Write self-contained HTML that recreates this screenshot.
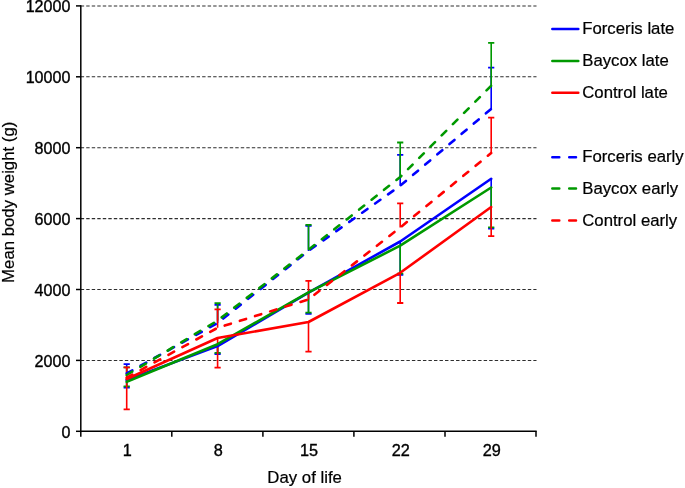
<!DOCTYPE html>
<html><head><meta charset="utf-8"><title>Mean body weight</title>
<style>
html,body{margin:0;padding:0;background:#fff;}
svg{display:block;}
text{font-family:"Liberation Sans",sans-serif;font-size:15.6px;fill:#000;stroke:#000;stroke-width:0.2px;}
text.d{font-size:15.8px;stroke-width:0.35px;}
</style></head><body>
<svg width="685" height="488" viewBox="0 0 685 488">
<rect width="685" height="488" fill="#fff"/>

<line x1="80.7" x2="536.5" y1="360.40" y2="360.40" stroke="#2e2e2e" stroke-width="1.05" stroke-dasharray="3.42 2.1"/>
<line x1="80.7" x2="536.5" y1="289.50" y2="289.50" stroke="#2e2e2e" stroke-width="1.05" stroke-dasharray="3.42 2.1"/>
<line x1="80.7" x2="536.5" y1="218.60" y2="218.60" stroke="#2e2e2e" stroke-width="1.05" stroke-dasharray="3.42 2.1"/>
<line x1="80.7" x2="536.5" y1="147.70" y2="147.70" stroke="#2e2e2e" stroke-width="1.05" stroke-dasharray="3.42 2.1"/>
<line x1="80.7" x2="536.5" y1="76.80" y2="76.80" stroke="#2e2e2e" stroke-width="1.05" stroke-dasharray="3.42 2.1"/>
<line x1="80.7" x2="536.5" y1="5.90" y2="5.90" stroke="#2e2e2e" stroke-width="1.05" stroke-dasharray="3.42 2.1"/>
<path d="M126.7 380.0V387.5M217.6 346.1V354.0M308.5 292.6V313.9M400.2 241.5V274.8M491.2 178.8V228.5" stroke="#0000ff" stroke-width="1.6" fill="none"/>
<path d="M123.6 387.5h6.2M214.5 354.0h6.2M305.4 313.9h6.2M397.1 274.8h6.2M488.1 228.5h6.2" stroke="#0000ff" stroke-width="1.8" fill="none"/>
<path d="M126.7 381.8V386.3M217.6 344.2V352.8M308.5 292.4V312.6M400.2 245.7V273.6M491.2 187.5V227.3" stroke="#009900" stroke-width="1.6" fill="none"/>
<path d="M123.6 386.3h6.2M214.5 352.8h6.2M305.4 312.6h6.2M397.1 273.6h6.2M488.1 227.3h6.2" stroke="#009900" stroke-width="1.8" fill="none"/>
<path d="M126.7 379.0V409.3M217.6 338.0V367.6M308.5 322.0V351.7M400.2 272.8V303.0M491.2 207.0V236.2" stroke="#ff0000" stroke-width="1.6" fill="none"/>
<path d="M123.6 409.3h6.2M214.5 367.6h6.2M305.4 351.7h6.2M397.1 303.0h6.2M488.1 236.2h6.2" stroke="#ff0000" stroke-width="1.8" fill="none"/>
<path d="M126.7 373.4V364.2M217.6 323.0V304.8M308.5 250.9V225.8M400.2 185.7V154.9M491.2 108.9V67.7" stroke="#0000ff" stroke-width="1.6" fill="none"/>
<path d="M123.6 364.2h6.2M214.5 304.8h6.2M305.4 225.8h6.2M397.1 154.9h6.2M488.1 67.7h6.2" stroke="#0000ff" stroke-width="1.8" fill="none"/>
<path d="M126.7 375.0V367.3M217.6 320.6V303.2M308.5 249.8V224.9M400.2 177.0V142.5M491.2 85.7V42.9" stroke="#009900" stroke-width="1.6" fill="none"/>
<path d="M123.6 367.3h6.2M214.5 303.2h6.2M305.4 224.9h6.2M397.1 142.5h6.2M488.1 42.9h6.2" stroke="#009900" stroke-width="1.8" fill="none"/>
<path d="M126.7 377.7V367.3M217.6 327.8V309.4M308.5 299.4V280.8M400.2 227.5V203.3M491.2 153.0V117.7" stroke="#ff0000" stroke-width="1.6" fill="none"/>
<path d="M123.6 367.3h6.2M214.5 309.4h6.2M305.4 280.8h6.2M397.1 203.3h6.2M488.1 117.7h6.2" stroke="#ff0000" stroke-width="1.8" fill="none"/>
<polyline points="126.7,380.0 217.6,346.1 308.5,292.6 400.2,241.5 491.2,178.8" stroke="#0000ff" stroke-width="2.6" fill="none" stroke-linejoin="round" stroke-linecap="round"/>
<polyline points="126.7,381.8 217.6,344.2 308.5,292.4 400.2,245.7 491.2,187.5" stroke="#009900" stroke-width="2.6" fill="none" stroke-linejoin="round" stroke-linecap="round"/>
<polyline points="126.7,379.0 217.6,338.0 308.5,322.0 400.2,272.8 491.2,207.0" stroke="#ff0000" stroke-width="2.6" fill="none" stroke-linejoin="round" stroke-linecap="round"/>
<polyline points="126.7,373.4 217.6,323.0 308.5,250.9 400.2,185.7 491.2,108.9" stroke="#0000ff" stroke-width="2.6" fill="none" stroke-linejoin="round" stroke-linecap="round" stroke-dasharray="6.45 9.43"/>
<polyline points="126.7,375.0 217.6,320.6 308.5,249.8 400.2,177.0 491.2,85.7" stroke="#009900" stroke-width="2.6" fill="none" stroke-linejoin="round" stroke-linecap="round" stroke-dasharray="6.45 9.43"/>
<polyline points="126.7,377.7 217.6,327.8 308.5,299.4 400.2,227.5 491.2,153.0" stroke="#ff0000" stroke-width="2.6" fill="none" stroke-linejoin="round" stroke-linecap="round" stroke-dasharray="6.45 9.43"/>
<path d="M80.8 5.2V432.05" stroke="#000" stroke-width="1.5" fill="none"/>
<path d="M80 431.3H536.7" stroke="#000" stroke-width="1.5" fill="none"/>
<line x1="76" x2="81" y1="431.30" y2="431.30" stroke="#000" stroke-width="1.5"/>
<text class="d" transform="translate(70.4 437.8) scale(1.02 1)" text-anchor="end">0</text>
<line x1="76" x2="81" y1="360.40" y2="360.40" stroke="#000" stroke-width="1.5"/>
<text class="d" transform="translate(70.4 366.9) scale(1.02 1)" text-anchor="end">2000</text>
<line x1="76" x2="81" y1="289.50" y2="289.50" stroke="#000" stroke-width="1.5"/>
<text class="d" transform="translate(70.4 296.0) scale(1.02 1)" text-anchor="end">4000</text>
<line x1="76" x2="81" y1="218.60" y2="218.60" stroke="#000" stroke-width="1.5"/>
<text class="d" transform="translate(70.4 225.1) scale(1.02 1)" text-anchor="end">6000</text>
<line x1="76" x2="81" y1="147.70" y2="147.70" stroke="#000" stroke-width="1.5"/>
<text class="d" transform="translate(70.4 154.2) scale(1.02 1)" text-anchor="end">8000</text>
<line x1="76" x2="81" y1="76.80" y2="76.80" stroke="#000" stroke-width="1.5"/>
<text class="d" transform="translate(70.4 83.3) scale(1.02 1)" text-anchor="end">10000</text>
<line x1="76" x2="81" y1="5.90" y2="5.90" stroke="#000" stroke-width="1.5"/>
<text class="d" transform="translate(70.4 12.4) scale(1.02 1)" text-anchor="end">12000</text>
<line x1="80.8" x2="80.8" y1="431.3" y2="436.7" stroke="#000" stroke-width="1.5"/>
<line x1="171.8" x2="171.8" y1="431.3" y2="436.7" stroke="#000" stroke-width="1.5"/>
<line x1="262.9" x2="262.9" y1="431.3" y2="436.7" stroke="#000" stroke-width="1.5"/>
<line x1="353.9" x2="353.9" y1="431.3" y2="436.7" stroke="#000" stroke-width="1.5"/>
<line x1="445.0" x2="445.0" y1="431.3" y2="436.7" stroke="#000" stroke-width="1.5"/>
<line x1="536.0" x2="536.0" y1="431.3" y2="436.7" stroke="#000" stroke-width="1.5"/>
<text class="d" transform="translate(127.3 456) scale(1.03 1)" text-anchor="middle">1</text>
<text class="d" transform="translate(218.2 456) scale(1.03 1)" text-anchor="middle">8</text>
<text class="d" transform="translate(309.1 456) scale(1.03 1)" text-anchor="middle">15</text>
<text class="d" transform="translate(400.8 456) scale(1.03 1)" text-anchor="middle">22</text>
<text class="d" transform="translate(491.8 456) scale(1.03 1)" text-anchor="middle">29</text>
<text transform="translate(304.6 483) scale(1.075 1)" text-anchor="middle">Day of life</text>
<text transform="translate(13.6 202.3) rotate(-90) scale(1.075 1)" text-anchor="middle">Mean body weight (g)</text>
<path d="M552.3 28.9h26" stroke="#0000ff" stroke-width="2.5" stroke-linecap="round" fill="none"/>
<text transform="translate(582.2 33.6) scale(1.075 1)">Forceris late</text>
<path d="M552.3 61h26" stroke="#009900" stroke-width="2.5" stroke-linecap="round" fill="none"/>
<text transform="translate(582.2 65.7) scale(1.075 1)">Baycox late</text>
<path d="M552.3 92.8h26" stroke="#ff0000" stroke-width="2.5" stroke-linecap="round" fill="none"/>
<text transform="translate(582.2 97.5) scale(1.075 1)">Control late</text>
<path d="M552.3 157.2h7M569.2 157.2h6.8" stroke="#0000ff" stroke-width="2.5" stroke-linecap="round" fill="none"/>
<text transform="translate(582.2 162.4) scale(1.075 1)">Forceris early</text>
<path d="M552.3 188.6h7M569.2 188.6h6.8" stroke="#009900" stroke-width="2.5" stroke-linecap="round" fill="none"/>
<text transform="translate(582.2 193.8) scale(1.075 1)">Baycox early</text>
<path d="M552.3 220.6h7M569.2 220.6h6.8" stroke="#ff0000" stroke-width="2.5" stroke-linecap="round" fill="none"/>
<text transform="translate(582.2 225.8) scale(1.075 1)">Control early</text>
</svg></body></html>
